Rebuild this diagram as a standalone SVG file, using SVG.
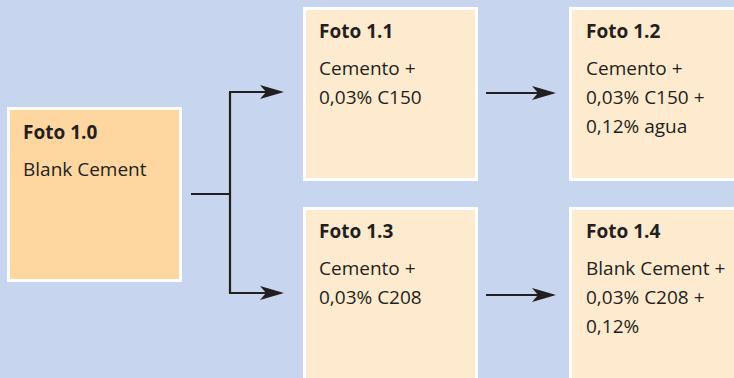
<svg xmlns="http://www.w3.org/2000/svg" width="734" height="378" viewBox="0 0 734 378">
  <style>
    .box { stroke: #ffffff; stroke-width: 3; }
    .base { fill: #fed69f; }
    .step { fill: #feeacf; }
    .title { font-family: "Open Sans", "Liberation Sans", sans-serif; font-weight: bold; font-size: 19px; fill: #231f20; }
    .body { font-family: "Open Sans", "Liberation Sans", sans-serif; font-size: 19px; fill: #231f20; }
    .wire { fill: none; stroke: #231f20; stroke-width: 2.2; }
  </style>
  <defs>
    <marker id="arrow" markerUnits="userSpaceOnUse" markerWidth="26" markerHeight="16" refX="21" refY="7" orient="auto" overflow="visible">
      <path d="M0,0 L24,7 L0,14 L6,7 Z" fill="#231f20"/>
    </marker>
  </defs>

  <rect width="734" height="378" fill="#c7d6ee"/>

  <g id="foto-1-0">
    <rect class="box base" x="8.5" y="108.5" width="172" height="172"/>
    <text class="title" x="23" y="139">Foto 1.0</text>
    <text class="body" x="23" y="176">Blank Cement</text>
  </g>

  <g id="foto-1-1">
    <rect class="box step" x="304.5" y="8.5" width="172" height="171"/>
    <text class="title" x="319" y="38">Foto 1.1</text>
    <text class="body" x="319" y="75">Cemento +</text>
    <text class="body" x="319" y="104">0,03% C150</text>
  </g>

  <g id="foto-1-2">
    <rect class="box step" x="570.5" y="8.5" width="170" height="171"/>
    <text class="title" x="586" y="38">Foto 1.2</text>
    <text class="body" x="586" y="75">Cemento +</text>
    <text class="body" x="586" y="104">0,03% C150 +</text>
    <text class="body" x="586" y="133">0,12% agua</text>
  </g>

  <g id="foto-1-3">
    <rect class="box step" x="304.5" y="208.5" width="172" height="180"/>
    <text class="title" x="319" y="238">Foto 1.3</text>
    <text class="body" x="319" y="275">Cemento +</text>
    <text class="body" x="319" y="304">0,03% C208</text>
  </g>

  <g id="foto-1-4">
    <rect class="box step" x="570.5" y="208.5" width="170" height="180"/>
    <text class="title" x="586" y="238">Foto 1.4</text>
    <text class="body" x="586" y="275">Blank Cement +</text>
    <text class="body" x="586" y="304">0,03% C208 +</text>
    <text class="body" x="586" y="333">0,12%</text>
  </g>

  <g id="connectors">
    <path class="wire" d="M191,194 H230"/>
    <path class="wire" d="M230,92 V293"/>
    <path class="wire" d="M229,92 H281" marker-end="url(#arrow)"/>
    <path class="wire" d="M229,293 H281" marker-end="url(#arrow)"/>
    <path class="wire" d="M486,93 H553" marker-end="url(#arrow)"/>
    <path class="wire" d="M486,295 H553" marker-end="url(#arrow)"/>
  </g>
</svg>
